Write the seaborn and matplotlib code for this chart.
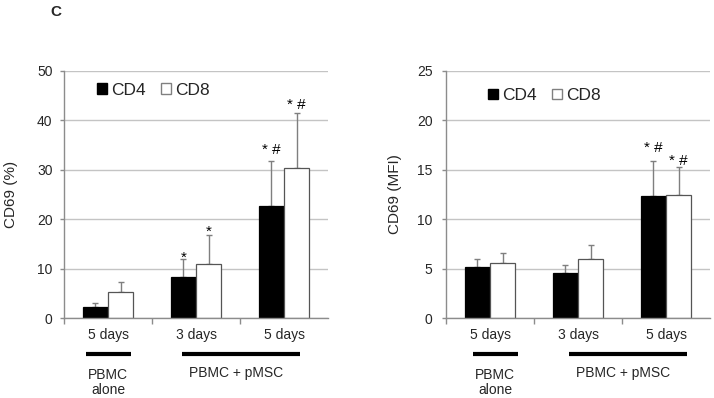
import matplotlib
matplotlib.use("Agg")
import matplotlib.pyplot as plt
from matplotlib.patches import Patch
from matplotlib.transforms import blended_transform_factory
import seaborn as sns
import pandas as pd
import numpy as np

# ---------------- data ----------------
cond_ids = ["alone_5d", "pmsc_3d", "pmsc_5d"]
tick_labels = ["5 days", "3 days", "5 days"]
cells = ["CD4", "CD8"]

pct_cd4 = [2.2, 8.2, 22.6]
pct_cd8 = [5.2, 10.9, 30.3]
pct_cd4_sd = [0.9, 3.7, 9.1]
pct_cd8_sd = [2.1, 6.0, 11.1]
pct_cd4_sig = ["", "*", "* #"]
pct_cd8_sig = ["", "*", "* #"]
pct_cd4_sig_y = [0, 11.3, 33.2]
pct_cd8_sig_y = [0, 16.6, 42.3]

mfi_cd4 = [5.2, 4.6, 12.3]
mfi_cd8 = [5.55, 5.95, 12.4]
mfi_cd4_sd = [0.75, 0.75, 3.6]
mfi_cd8_sd = [1.05, 1.4, 2.85]
mfi_cd4_sig = ["", "", "* #"]
mfi_cd8_sig = ["", "", "* #"]
mfi_cd4_sig_y = [0, 0, 16.8]
mfi_cd8_sig_y = [0, 0, 15.5]

group_alone = "PBMC\nalone"
group_pmsc = "PBMC + pMSC"

# ---------------- style ----------------
sns.set_style("white")
plt.rcParams["font.family"] = ["Liberation Sans", "DejaVu Sans"]

W, H = 714, 398
fig = plt.figure(figsize=(W / 100, H / 100), dpi=100)

GRID = "#c4c4c4"
AXC = "#8c8c8c"
ERR = "#7f7f7f"


def make_panel(ax_rect, cd4, cd8, sd4, sd8, sig4, sig8, sigy4, sigy8,
               ymax, ystep, ylabel, leg_anchor, ylabel_x, tickpad,
               lines, txt_x):
    ax = fig.add_axes(ax_rect)
    df = pd.DataFrame({
        "cond": cond_ids * 2,
        "cell": [cells[0]] * 3 + [cells[1]] * 3,
        "val": list(cd4) + list(cd8),
    })
    sns.barplot(data=df, x="cond", y="val", hue="cell", order=cond_ids,
                hue_order=cells, palette=["black", "white"], width=0.57,
                errorbar=None, legend=False, ax=ax, linewidth=0.9,
                saturation=1)
    bars = [p for p in ax.patches]
    for p in bars:
        fc = p.get_facecolor()
        if fc[0] > 0.5:
            p.set_edgecolor("#555555")
        else:
            p.set_edgecolor("black")
        p.set_zorder(2)
    bars_sorted = sorted(bars, key=lambda p: p.get_x())
    vals, sds, sigs, sigys = [], [], [], []
    for i in range(3):
        vals += [cd4[i], cd8[i]]
        sds += [sd4[i], sd8[i]]
        sigs += [sig4[i], sig8[i]]
        sigys += [sigy4[i], sigy8[i]]
    xs = [p.get_x() + p.get_width() / 2 for p in bars_sorted]
    ax.errorbar(xs, vals, yerr=[np.zeros(len(vals)), sds], fmt="none",
                ecolor=ERR, elinewidth=1, capsize=2, capthick=1, zorder=1.5)
    for x, s, y in zip(xs, sigs, sigys):
        if s:
            ax.text(x, y, s, ha="center", va="baseline", fontsize=11,
                    color="black", zorder=3)

    ax.set_xlim(-0.5, 2.5)
    ax.set_ylim(0, ymax)
    ax.set_yticks(np.arange(0, ymax + 0.01, ystep))
    ax.set_xticks(range(3))
    ax.set_xticklabels(tick_labels)
    ax.set_xticks([-0.5, 0.5, 1.5], minor=True)
    ax.set_xlabel("")
    ax.set_ylabel(ylabel, fontsize=11)
    ax.yaxis.set_label_coords(ylabel_x, 0.5)

    ax.set_axisbelow(True)
    ax.grid(axis="y", color=GRID, linewidth=1)
    ax.grid(axis="x", visible=False)
    for side in ["top", "right"]:
        ax.spines[side].set_visible(False)
    for side in ["left", "bottom"]:
        ax.spines[side].set_color(AXC)
        ax.spines[side].set_linewidth(1)
    ax.tick_params(axis="y", which="major", length=3, width=1, color=AXC,
                   labelsize=10, pad=tickpad, left=True, direction="out")
    ax.tick_params(axis="x", which="major", length=0, labelsize=10, pad=7.5)
    ax.tick_params(axis="x", which="minor", length=4, width=1, color=AXC,
                   bottom=True, direction="out")

    handles = [Patch(facecolor="black", edgecolor="black", label=cells[0]),
               Patch(facecolor="white", edgecolor="#808080", label=cells[1])]
    ax.legend(handles=handles, ncol=2, frameon=False, fontsize=12.5,
              loc="center left", bbox_to_anchor=leg_anchor,
              handlelength=0.55, handleheight=0.55, handletextpad=0.25,
              columnspacing=0.9, borderpad=0, borderaxespad=0)

    tr = blended_transform_factory(ax.transData, ax.transAxes)
    for (x0, x1) in lines:
        ax.plot([x0, x1], [-0.1445, -0.1445], color="black", lw=3,
                transform=tr, clip_on=False, solid_capstyle="butt")
    # multi-line text: va='baseline' aligns the last line's baseline
    ax.text(txt_x[0], -0.309, group_alone, ha="center", va="baseline",
            fontsize=10, transform=tr, linespacing=1.1)
    ax.text(txt_x[1], -0.2377, group_pmsc, ha="center", va="baseline",
            fontsize=10, transform=tr)
    return ax


ax_h = 247 / H
ax_b = 1 - 318 / H
ax_w = 264 / W

make_panel([64 / W, ax_b, ax_w, ax_h], pct_cd4, pct_cd8, pct_cd4_sd, pct_cd8_sd,
           pct_cd4_sig, pct_cd8_sig, pct_cd4_sig_y, pct_cd8_sig_y,
           50, 10, "CD69 (%)", (0.125, 0.923), -0.174, 5.3,
           [(-0.25, 0.261), (0.84, 2.18)], (0.003, 1.46))

make_panel([446 / W, ax_b, ax_w, ax_h], mfi_cd4, mfi_cd8, mfi_cd4_sd, mfi_cd8_sd,
           mfi_cd4_sig, mfi_cd8_sig, mfi_cd4_sig_y, mfi_cd8_sig_y,
           25, 5, "CD69 (MFI)", (0.160, 0.90), -0.168, 6.7,
           [(-0.197, 0.315), (0.898, 2.235)], (0.057, 1.515))

fig.text(50 / W, 1 - 16 / H, "C", fontsize=11, fontweight="bold",
         ha="left", va="baseline")

fig.savefig("out.png", dpi=100)
